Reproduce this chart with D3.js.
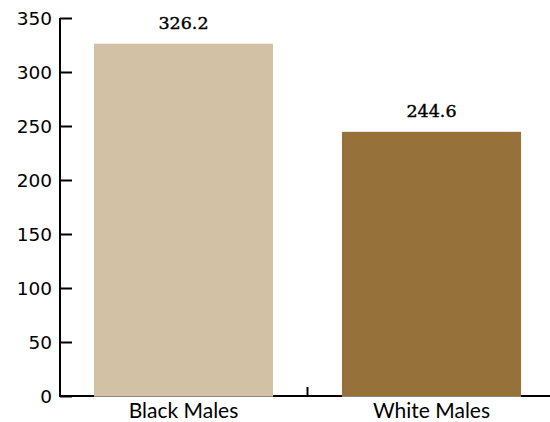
<!DOCTYPE html>
<html>
<head>
<meta charset="utf-8">
<script src="https://cdn.jsdelivr.net/npm/d3@7"></script>
<style>
  html, body { margin: 0; padding: 0; background: #fff; }
  svg { display: block; }
</style>
</head>
<body>
<svg id="chart" width="550" height="422"></svg>
<script>
// Chart data
const categories = ["Black Males", "White Males"];
const values = [326.2, 244.6];
const valueLabels = ["326.2", "244.6"];
const barColors = ["#D2C1A5", "#967139"];
const yTicks = [0, 50, 100, 150, 200, 250, 300, 350];

const svg = d3.select("#chart");

// Scales
const y = d3.scaleLinear().domain([0, 350]).range([396, 18]);
const x = d3.scaleBand()
  .domain(categories)
  .range([59.5, 555.5])
  .paddingInner(0.278)
  .paddingOuter(0.139);
const axisLeft = 60, axisRight = 550;

// Baseline and the divider tick between categories
const base = svg.append("g");
base.append("line")
  .attr("x1", axisLeft).attr("x2", axisRight)
  .attr("y1", y(0)).attr("y2", y(0))
  .attr("stroke", "#000").attr("stroke-width", 2);
const divider = x(categories[1]) - x.step() * x.paddingInner() / 2;
base.append("line")
  .attr("x1", divider).attr("x2", divider)
  .attr("y1", y(0)).attr("y2", y(0) - 9)
  .attr("stroke", "#000").attr("stroke-width", 2);

// Bars
svg.append("g").selectAll("rect")
  .data(categories)
  .join("rect")
  .attr("x", d => x(d))
  .attr("width", x.bandwidth())
  .attr("y", (d, i) => y(values[i]))
  .attr("height", (d, i) => y(0) - y(values[i]) + 1)
  .attr("fill", (d, i) => barColors[i]);

// Thin grey bottom edge of the bars
svg.append("g").selectAll("line")
  .data(categories)
  .join("line")
  .attr("x1", d => x(d))
  .attr("x2", d => x(d) + x.bandwidth())
  .attr("y1", y(0) + 0.5).attr("y2", y(0) + 0.5)
  .attr("stroke", "#8a8a8a").attr("stroke-width", 1);

// Y axis with inward ticks
const yAxis = d3.axisRight(y)
  .tickValues(yTicks)
  .tickSize(12)
  .tickFormat("");
const yg = svg.append("g")
  .attr("transform", `translate(${axisLeft},0)`)
  .call(yAxis);
yg.select(".domain").attr("stroke", "#000").attr("stroke-width", 2)
  .attr("d", `M0,${y(350)}V${y(0) + 1}`);
yg.selectAll(".tick line").attr("stroke", "#000").attr("stroke-width", 2);

// Y tick labels
svg.append("g").selectAll("text")
  .data(yTicks)
  .join("text")
  .attr("x", 52)
  .attr("y", d => y(d))
  .attr("dy", "0.36em")
  .attr("text-anchor", "end")
  .attr("font-family", "DejaVu Sans, sans-serif")
  .attr("font-size", 18.5)
  .attr("fill", "#000")
  .text(d => d);

// Category labels
svg.append("g").selectAll("text")
  .data(categories)
  .join("text")
  .attr("x", d => x(d) + x.bandwidth() / 2)
  .attr("y", 418)
  .attr("text-anchor", "middle")
  .attr("font-family", "Lato, sans-serif")
  .attr("font-size", 21)
  .attr("fill", "#000")
  .text(d => d);

// Value labels above bars
svg.append("g").selectAll("text")
  .data(categories)
  .join("text")
  .attr("x", d => x(d) + x.bandwidth() / 2)
  .attr("y", (d, i) => y(values[i]) - 15)
  .attr("text-anchor", "middle")
  .attr("font-family", "DejaVu Serif, serif")
  .attr("font-size", 17.5)
  .attr("fill", "#000")
  .attr("stroke", "#000")
  .attr("stroke-width", 0.4)
  .text((d, i) => valueLabels[i]);
</script>
</body>
</html>
